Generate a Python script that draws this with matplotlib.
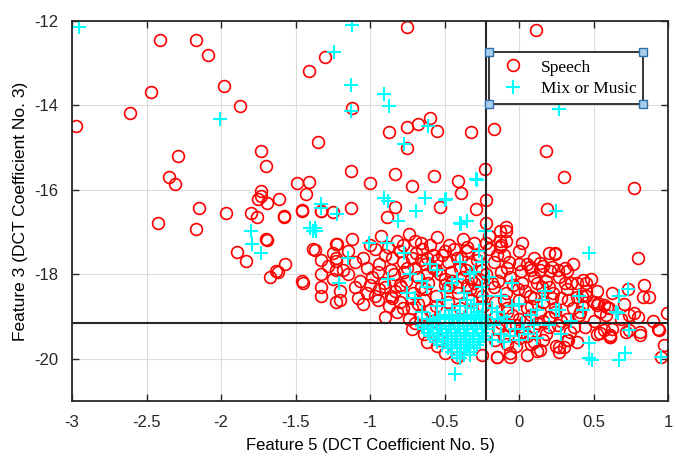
import matplotlib
matplotlib.use("Agg")
import matplotlib.pyplot as plt
import numpy as np

# Speech points (Feature 5, Feature 3) - sparse outer points
speech_sparse = [
    (-2.41, -12.45), (-2.17, -12.45), (-2.09, -12.8), (-2.47, -13.67), (-2.61, -14.19),
    (-2.97, -14.49), (-1.98, -13.55), (-1.87, -14.02), (-1.41, -13.18), (-1.30, -12.86),
    (-1.35, -14.87), (-2.29, -15.2), (-2.35, -15.69), (-2.31, -15.86), (-2.42, -16.78),
    (-2.15, -16.42), (-2.17, -16.92), (-1.97, -16.55), (-1.73, -15.08), (-1.70, -15.44),
    (-1.73, -16.02), (-1.73, -16.14), (-1.75, -16.21), (-1.69, -16.31), (-1.61, -16.21),
    (-1.58, -16.65), (-1.80, -16.54), (-1.76, -16.65), (-1.49, -15.83), (-1.41, -15.8),
    (-1.43, -16.1), (-1.46, -16.48), (-1.33, -16.5), (-1.25, -16.51), (-1.70, -17.15),
    (-0.75, -12.14), (0.11, -12.21), (-1.12, -14.07), (-0.87, -14.63), (-0.75, -14.52),
    (-0.68, -14.45), (-0.60, -14.3), (-0.55, -14.6), (-0.32, -14.63), (-0.17, -14.55),
    (-0.75, -15.0), (0.18, -15.07), (0.30, -15.69), (0.77, -15.96), (-1.13, -15.55),
    (-1.00, -15.83), (-0.83, -15.62), (-0.72, -15.91), (-0.57, -15.67), (-0.41, -15.79),
    (-0.39, -16.08), (-0.23, -15.51), (-0.22, -16.24), (-0.29, -16.45), (-0.53, -16.41),
    (-0.83, -16.41), (-1.13, -16.42), (0.19, -16.45), (-0.89, -16.65), (-0.09, -16.87),
    (-0.13, -16.96), (-0.22, -16.77), (-1.69, -17.18), (-1.89, -17.46), (-1.83, -17.67),
    (-1.67, -18.05), (-1.63, -17.91), (-1.57, -17.75), (-1.45, -18.2), (-1.37, -17.41),
    (-1.33, -17.65), (-1.33, -18.0), (-1.33, -18.3), (-1.33, -18.5), (-1.23, -17.67),
    (-1.23, -17.9), (-1.23, -18.66), (-1.23, -17.28), (-1.58, -16.61), (-1.46, -16.49),
    (-1.33, -16.49), (-1.38, -17.39), (-1.23, -17.6), (-1.20, -18.61), (-1.46, -18.16),
    (-1.62, -17.95), (0.24, -17.48), (0.80, -17.6), (0.84, -18.26), (0.87, -18.53),
    (0.83, -18.53), (0.73, -18.35), (0.99, -18.92), (0.94, -19.32), (0.97, -19.67),
    (0.95, -19.95), (0.74, -18.96), (0.77, -18.92), (0.81, -19.36), (0.74, -19.32),
    (0.61, -19.43), (0.54, -19.39), (0.57, -18.73), (0.52, -18.73), (0.45, -18.2),
    (0.39, -18.2), (0.31, -17.85), (0.31, -18.2), (0.22, -17.82), (0.14, -17.9),
    (0.07, -17.82), (-0.07, -17.7), (-0.09, -16.97), (-0.13, -17.2), (-0.09, -17.2),
    (-0.13, -17.36), (0.39, -18.53), (0.45, -18.38), (0.59, -18.78), (0.61, -19.48),
    (0.39, -19.6), (0.30, -19.72), (0.27, -19.83), (0.14, -19.79), (-0.06, -19.95),
    (-0.15, -19.95), (0.24, -17.52), (0.32, -17.91), (0.43, -18.14), (0.45, -18.5),
    (0.53, -18.68), (0.41, -18.9), (0.37, -19.25), (0.32, -19.55), (0.27, -19.72),
    (0.21, -17.91), (0.14, -17.72), (0.05, -17.75), (0.01, -17.91), (0.57, -19.32),
    (0.54, -18.9), (0.61, -19.48), (0.93, -19.28), (0.81, -19.44),
]

# Speech points - dense cluster
speech_dense = [
    (-1.22, -17.28), (-1.12, -17.15), (-1.0, -17.3), (-0.93, -17.1), (-0.82, -17.2),
    (-0.74, -17.05), (-0.66, -17.25), (-0.55, -17.12), (-0.47, -17.3), (-0.38, -17.15),
    (-0.3, -17.25), (-0.2, -17.1), (-0.12, -17.3), (0.02, -17.25),
    (-1.25, -17.5), (-1.15, -17.45), (-1.05, -17.6), (-0.97, -17.4), (-0.9, -17.55),
    (-0.8, -17.45), (-0.72, -17.6), (-0.65, -17.4), (-0.58, -17.55), (-0.5, -17.45),
    (-0.42, -17.6), (-0.35, -17.45), (-0.27, -17.55), (-0.2, -17.4), (-0.1, -17.55),
    (0.0, -17.45), (0.1, -17.6), (0.2, -17.5),
    (-1.28, -17.8), (-1.18, -17.9), (-1.1, -17.7), (-1.02, -17.85), (-0.94, -17.75),
    (-0.86, -17.9), (-0.78, -17.7), (-0.7, -17.85), (-0.63, -17.75), (-0.56, -17.9),
    (-0.48, -17.7), (-0.4, -17.85), (-0.33, -17.75), (-0.25, -17.9), (-0.17, -17.7),
    (-0.08, -17.85), (0.0, -17.75), (0.08, -17.9), (0.16, -17.8), (0.26, -17.9),
    (0.36, -17.75),
    (-1.25, -18.1), (-1.15, -18.0), (-1.07, -18.15), (-0.99, -18.05), (-0.91, -18.2),
    (-0.84, -18.0), (-0.76, -18.15), (-0.68, -18.05), (-0.61, -18.2), (-0.53, -18.0),
    (-0.45, -18.15), (-0.38, -18.05), (-0.3, -18.2), (-0.22, -18.0), (-0.14, -18.15),
    (-0.06, -18.05), (0.02, -18.2), (0.1, -18.05), (0.18, -18.15), (0.27, -18.05),
    (0.35, -18.2), (0.48, -18.1),
    (-1.2, -18.4), (-1.1, -18.3), (-1.02, -18.45), (-0.94, -18.35), (-0.86, -18.5),
    (-0.79, -18.3), (-0.71, -18.45), (-0.63, -18.35), (-0.56, -18.5), (-0.48, -18.3),
    (-0.41, -18.45), (-0.33, -18.35), (-0.25, -18.5), (-0.17, -18.3), (-0.09, -18.45),
    (-0.01, -18.35), (0.07, -18.5), (0.15, -18.3), (0.23, -18.45), (0.32, -18.35),
    (0.42, -18.5), (0.52, -18.4), (0.62, -18.45),
    (-1.05, -18.7), (-0.95, -18.6), (-0.87, -18.75), (-0.8, -18.65), (-0.72, -18.8),
    (-0.64, -18.6), (-0.56, -18.75), (-0.48, -18.65), (-0.4, -18.8), (-0.32, -18.6),
    (-0.24, -18.75), (-0.16, -18.65), (-0.08, -18.8), (0.0, -18.6), (0.08, -18.75),
    (0.16, -18.65), (0.24, -18.8), (0.33, -18.6), (0.42, -18.75), (0.5, -18.65),
    (0.6, -18.8), (0.7, -18.7),
    (-0.9, -19.0), (-0.82, -18.9), (-0.74, -19.05), (-0.66, -18.95), (-0.58, -19.1),
    (-0.16, -19.0), (-0.08, -18.9), (0.0, -19.05), (0.08, -18.95), (0.16, -19.1),
    (0.24, -18.9), (0.32, -19.05), (0.4, -18.95), (0.5, -19.1), (0.58, -18.95),
    (0.68, -19.05), (0.8, -19.0), (0.9, -19.1),
    (-0.72, -19.3), (-0.64, -19.4), (-0.14, -19.3), (-0.06, -19.2), (0.02, -19.35),
    (0.1, -19.25), (0.18, -19.4), (0.26, -19.2), (0.34, -19.35), (0.44, -19.25),
    (0.52, -19.4), (0.62, -19.3), (0.72, -19.35),
    (-0.62, -19.6), (-0.55, -19.7), (-0.16, -19.55), (-0.08, -19.65), (0.0, -19.5),
    (0.08, -19.65), (0.16, -19.55), (0.25, -19.7), (0.33, -19.55),
    (-0.5, -19.85), (-0.42, -19.95), (-0.25, -19.9), (-0.15, -19.95), (-0.06, -19.85),
    (0.05, -19.9), (0.12, -19.8),
    (-0.85, -17.6), (-0.77, -17.95), (-0.69, -17.5), (-0.62, -18.0), (-0.55, -17.65),
    (-0.46, -17.95), (-0.39, -17.6), (-0.32, -18.1), (-0.5, -18.25), (-0.66, -18.3),
    (-0.8, -18.25), (-0.28, -18.4), (-0.35, -17.35), (-0.6, -17.3), (-0.72, -18.55),
    (-0.05, -18.95), (0.05, -18.8), (0.12, -19.15), (-0.02, -19.2), (0.2, -19.0),
    (0.1, -18.55), (-0.1, -18.6), (0.22, -18.55), (0.05, -19.45), (-0.1, -19.45),
    # extra fill of the solid core
    (-0.88, -17.35), (-0.78, -17.3), (-0.7, -17.2), (-0.62, -17.6), (-0.52, -17.55),
    (-0.44, -17.4), (-0.36, -17.9), (-0.28, -17.65), (-0.22, -17.25), (-0.15, -17.55),
    (-0.95, -17.95), (-0.9, -18.3), (-0.83, -18.4), (-0.75, -17.85), (-0.66, -17.65),
    (-0.58, -17.85), (-0.5, -18.1), (-0.42, -18.3), (-0.35, -18.25), (-0.27, -18.1),
    (-0.18, -18.2), (-0.12, -17.95), (-0.04, -18.25), (0.04, -18.4), (0.12, -18.2),
    (0.2, -18.3), (0.28, -18.55), (0.14, -18.9), (0.04, -19.1), (-0.12, -19.15),
    (0.2, -19.25), (0.28, -19.1), (0.36, -18.8), (0.1, -19.6), (-0.02, -19.7),
    (-0.68, -18.7), (-0.6, -18.85), (-0.78, -18.8), (-0.85, -18.55), (-0.97, -18.5),
    (-1.08, -18.55), (-1.0, -18.25), (-0.7, -19.15), (-0.62, -19.25), (-0.54, -19.55),
]

# Mix or Music points - scattered
music_sparse = [
    (-2.95, -12.14), (-1.12, -12.1), (-1.24, -12.73), (-1.13, -13.51), (-0.91, -13.72),
    (-0.87, -14.02), (-1.13, -14.12), (-0.61, -14.49), (-0.77, -14.92), (0.27, -14.08),
    (-0.28, -15.76), (-0.91, -16.19), (-0.88, -16.26), (-0.63, -16.19), (-0.69, -16.49),
    (-0.5, -16.24), (-1.22, -16.56), (-0.81, -16.73), (-0.39, -16.8), (-0.35, -16.73),
    (-0.23, -16.96), (0.25, -16.49), (-2.01, -14.33), (-1.33, -16.42), (-1.37, -16.89),
    (-1.36, -16.96), (-1.8, -16.96), (-1.79, -17.27), (-1.73, -17.5), (-0.49, -16.21),
    (-1.33, -16.33), (-1.4, -16.89), (-0.4, -16.78), (-0.29, -15.75), (-1.38, -16.96),
    (0.47, -17.49), (0.73, -18.34), (0.67, -18.5), (0.65, -18.9), (0.47, -19.98),
    (0.67, -20.03), (0.71, -19.86), (0.95, -19.95), (0.47, -19.63), (-0.43, -20.35),
    (0.17, -18.38), (0.43, -18.85), (0.27, -18.85), (0.74, -19.32), (0.49, -20.03),
    (0.66, -18.92),
    (-1.15, -17.62), (-1.21, -18.2), (-1.01, -17.25), (-0.89, -17.25), (-0.88, -18.1),
    (-0.77, -17.5), (-0.73, -17.98), (-0.7, -18.56), (-0.62, -18.3), (-0.55, -17.9),
    (-0.5, -18.6), (-0.45, -18.2), (-0.4, -17.7), (-0.37, -18.45), (-0.33, -18.0),
    (-0.3, -18.7), (-0.27, -17.45), (-0.25, -18.3), (-0.2, -18.05), (-0.18, -18.8),
    (-0.12, -18.5), (-0.1, -19.0), (-0.05, -18.2), (0.0, -18.7), (0.03, -19.3),
    (0.08, -18.95), (0.12, -19.5), (0.15, -18.6), (0.2, -19.2), (0.25, -18.85),
    (0.28, -19.4), (0.35, -19.1), (0.4, -18.5), (-0.65, -18.9), (-0.58, -19.1),
]

# Mix or Music points - dense core
music_dense = [
    (-0.5, -18.95), (-0.45, -18.95), (-0.4, -18.95), (-0.35, -18.95), (-0.3, -18.95),
    (-0.25, -18.95),
    (-0.6, -19.05), (-0.55, -19.05), (-0.5, -19.05), (-0.45, -19.05), (-0.4, -19.05),
    (-0.35, -19.05), (-0.3, -19.05), (-0.25, -19.05),
    (-0.68, -19.15), (-0.62, -19.15), (-0.56, -19.15), (-0.5, -19.15), (-0.44, -19.15),
    (-0.38, -19.15), (-0.32, -19.15), (-0.26, -19.15), (-0.21, -19.15),
    (-0.64, -19.3), (-0.58, -19.3), (-0.52, -19.3), (-0.46, -19.3), (-0.4, -19.3),
    (-0.34, -19.3), (-0.28, -19.3), (-0.22, -19.3),
    (-0.6, -19.45), (-0.54, -19.45), (-0.48, -19.45), (-0.42, -19.45), (-0.36, -19.45),
    (-0.3, -19.45), (-0.24, -19.45),
    (-0.55, -19.6), (-0.49, -19.6), (-0.43, -19.6), (-0.37, -19.6), (-0.31, -19.6),
    (-0.26, -19.6),
    (-0.48, -19.75), (-0.42, -19.75), (-0.36, -19.75), (-0.3, -19.75),
    (-0.42, -19.9), (-0.37, -19.9), (-0.33, -19.9),
    # in-between rows to make the core solid
    (-0.53, -19.0), (-0.47, -19.0), (-0.42, -19.0), (-0.37, -19.0), (-0.32, -19.0),
    (-0.27, -19.0), (-0.22, -19.0),
    (-0.65, -19.22), (-0.59, -19.22), (-0.53, -19.22), (-0.47, -19.22), (-0.41, -19.22),
    (-0.35, -19.22), (-0.29, -19.22), (-0.23, -19.22),
    (-0.61, -19.38), (-0.55, -19.38), (-0.49, -19.38), (-0.43, -19.38), (-0.37, -19.38),
    (-0.31, -19.38), (-0.25, -19.38),
    (-0.57, -19.52), (-0.51, -19.52), (-0.45, -19.52), (-0.39, -19.52), (-0.33, -19.52),
    (-0.27, -19.52), (-0.22, -19.52),
    (-0.52, -19.68), (-0.46, -19.68), (-0.4, -19.68), (-0.34, -19.68), (-0.28, -19.68),
    (-0.45, -19.83), (-0.39, -19.83), (-0.33, -19.83), (-0.4, -19.97),
    (-0.17, -19.2), (-0.12, -19.4), (-0.08, -19.1), (-0.03, -19.3), (0.02, -19.15),
    (0.06, -19.4), (0.1, -19.2), (-0.15, -18.9), (-0.05, -18.75), (0.12, -18.85),
    (-0.18, -19.55), (-0.1, -19.6), (0.0, -19.55), (-0.14, -19.05), (-0.06, -19.45),
    (-0.55, -18.75), (-0.45, -18.85), (-0.35, -18.6), (-0.28, -18.9), (-0.22, -18.5),
    (-0.5, -18.4), (-0.42, -18.1), (-0.3, -17.95), (-0.25, -17.7), (-0.6, -17.75),
    (-0.65, -18.15), (-0.75, -18.45), (-0.4, -18.75), (-0.32, -18.8), (-0.24, -18.7),
]

# decision thresholds
x_threshold = -0.22
y_threshold = -19.15

speech = np.array(speech_sparse + speech_dense)
music = np.array(music_sparse + music_dense)

plt.rcParams['font.family'] = ['Liberation Sans', 'DejaVu Sans']

fig = plt.figure(figsize=(6.76, 4.66), dpi=100)
ax = fig.add_axes([0.1065, 0.139, 0.882, 0.816])

ax.plot(speech[:, 0], speech[:, 1], 'o', mfc='none', mec='red', ms=8.5, mew=1.2,
        linestyle='none', label='Speech')
ax.plot(music[:, 0], music[:, 1], '+', color='cyan', ms=10, mew=1.5,
        linestyle='none', label='Mix or Music')

ax.axvline(x_threshold, color='#262626', lw=1.5)
ax.axhline(y_threshold, color='#262626', lw=1.5)

ax.set_xlim(-3, 1)
ax.set_ylim(-21, -12)
ax.set_xticks(np.arange(-3, 1.01, 0.5))
ax.set_xticklabels(['-3', '-2.5', '-2', '-1.5', '-1', '-0.5', '0', '0.5', '1'])
ax.set_yticks([-20, -18, -16, -14, -12])
ax.set_yticklabels(['-20', '-18', '-16', '-14', '-12'])
ax.grid(True, color='#dcdcdc', lw=0.8)
ax.set_axisbelow(True)
ax.tick_params(direction='in', top=True, right=True, length=5, width=1,
               labelsize=12, pad=10, colors='#262626')
for s in ax.spines.values():
    s.set_color('#262626')
    s.set_linewidth(1.3)

ax.set_xlabel('Feature 5 (DCT Coefficient No. 5)', fontsize=12, labelpad=6)
ax.set_ylabel('Feature 3 (DCT Coefficient No. 3)', fontsize=12.5, labelpad=4)

leg = ax.legend(loc='upper right', bbox_to_anchor=(0.973, 0.94), frameon=True,
                fancybox=False, edgecolor='#262626', framealpha=1,
                prop={'family': 'Liberation Serif', 'size': 12.5},
                handletextpad=0.6, borderpad=0.4, labelspacing=0.3)
leg.get_frame().set_linewidth(1.3)

# selection squares on the legend corners
fig.canvas.draw()
bb = leg.get_window_extent().transformed(fig.transFigure.inverted())
cx = [bb.x0, bb.x1, bb.x0, bb.x1]
cy = [bb.y0, bb.y0, bb.y1, bb.y1]
fig.add_artist(plt.Line2D(cx, cy, transform=fig.transFigure, linestyle='none',
                          marker='s', ms=6, mfc='#a8cfee', mec='#2f6fa8', mew=1))

fig.savefig('out.png', dpi=100)
